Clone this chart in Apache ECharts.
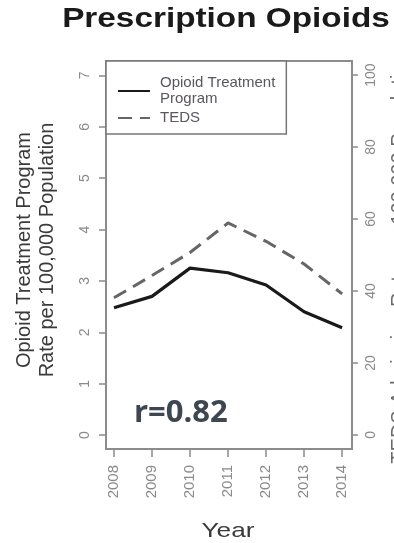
<!DOCTYPE html>
<html>
<head>
<meta charset="utf-8">
<script src="https://cdn.jsdelivr.net/npm/echarts@6/dist/echarts.min.js"></script>
<style>
html,body{margin:0;padding:0;background:#fff;}
#c{width:394px;height:543px;}
</style>
</head>
<body>
<div id="c"></div>
<script>
const years = [2008, 2009, 2010, 2011, 2012, 2013, 2014];
const otpRate = [2.48, 2.70, 3.25, 3.16, 2.92, 2.40, 2.09];
const tedsRate = [38.1, 44.3, 50.7, 58.9, 53.8, 47.5, 39.2];
const leftTicks = [0, 1, 2, 3, 4, 5, 6, 7];
const rightTicks = [0, 20, 40, 60, 80, 100];
const seriesNames = ['Opioid Treatment Program', 'TEDS'];

const chart = echarts.init(document.getElementById('c'), null, {renderer: 'canvas'});
const gray = '#8a8a8a';
const font = 'Liberation Sans, Arial, sans-serif';

chart.setOption({
  animation: false,
  backgroundColor: '#fff',
  grid: {left: 106, right: 42, top: 61, bottom: 94, show: true, borderColor: '#8c8c8c', borderWidth: 2, backgroundColor: 'transparent'},
  legend: {
    data: seriesNames,
    orient: 'vertical',
    left: 106, top: 61,
    padding: [14, 11, 8, 11],
    itemWidth: 32, itemHeight: 14, itemGap: 3,
    backgroundColor: '#fff',
    borderColor: '#777', borderWidth: 1.5,
    itemStyle: {color: 'rgba(0,0,0,0)', borderWidth: 0, opacity: 0},
    formatter: n => n === 'Opioid Treatment Program' ? 'Opioid Treatment\nProgram' : n,
    textStyle: {fontFamily: font, fontSize: 15, lineHeight: 16, color: '#5a5560', padding: [0, 0, 0, 5]}
  },
  xAxis: {
    type: 'value', min: 2007.79, max: 2014.26,
    axisLine: {show: false, onZero: false}, splitLine: {show: false},
    axisTick: {show: true, inside: false, customValues: years, length: 8, lineStyle: {color: gray, width: 1.5}},
    axisLabel: {customValues: years, rotate: 90, fontFamily: font, fontSize: 15, color: gray, margin: 16, formatter: v => String(v)}
  },
  yAxis: [{
    type: 'value', min: -0.27, max: 7.28,
    axisLine: {show: false, onZero: false}, splitLine: {show: false},
    axisTick: {show: true, customValues: leftTicks, length: 7, lineStyle: {color: gray, width: 1.5}},
    axisLabel: {customValues: leftTicks, rotate: 90, fontFamily: font, fontSize: 14, color: gray, margin: 14, formatter: v => String(v)}
  }, {
    type: 'value', min: -3.9, max: 103.9, position: 'right',
    axisLine: {show: false, onZero: false}, splitLine: {show: false},
    axisTick: {show: true, customValues: rightTicks, length: 6, lineStyle: {color: gray, width: 1.5}},
    axisLabel: {customValues: rightTicks, rotate: 90, fontFamily: font, fontSize: 14, color: gray, margin: 12, formatter: v => String(v)}
  }],
  series: [{
    name: seriesNames[0], type: 'line', yAxisIndex: 0, symbol: 'none',
    data: years.map((y, i) => [y, otpRate[i]]),
    lineStyle: {color: '#1a1a1a', width: 3.2}, itemStyle: {color: '#1a1a1a'}
  }, {
    name: seriesNames[1], type: 'line', yAxisIndex: 1, symbol: 'none',
    data: years.map((y, i) => [y, tedsRate[i]]),
    lineStyle: {color: '#666666', width: 3, type: [14, 8]}, itemStyle: {color: '#666666'}
  }],
  graphic: [
    {type: 'text', x: 226, y: 19, scaleX: 1.19, style: {text: 'Prescription Opioids', x: 0, y: 0, align: 'center', verticalAlign: 'middle', font: 'bold 28px Liberation Sans, Arial, sans-serif', fill: '#1a1a1a'}},
    {type: 'text', x: 228, y: 531, scaleX: 1.25, style: {text: 'Year', x: 0, y: 0, align: 'center', verticalAlign: 'middle', font: '21px Liberation Sans, Arial, sans-serif', fill: '#3a3a3a'}},
    {type: 'text', x: 36, y: 250, rotation: Math.PI / 2, style: {text: 'Opioid Treatment Program\nRate per 100,000 Population', x: 0, y: 0, align: 'center', verticalAlign: 'middle', lineHeight: 23, font: '20px Liberation Sans, Arial, sans-serif', fill: '#3a3a3a'}},
    {type: 'text', x: 399, y: 258, rotation: Math.PI / 2, style: {text: 'TEDS Admission Rate per 100,000 Population', x: 0, y: 0, align: 'center', verticalAlign: 'middle', font: '20px Liberation Sans, Arial, sans-serif', fill: '#6a6a6a'}},
    {type: 'text', x: 134, y: 413, style: {text: 'r=0.82', x: 0, y: 0, align: 'left', verticalAlign: 'middle', font: 'bold 31px Open Sans, sans-serif', fill: '#3d4651'}}
  ]
});
</script>
</body>
</html>
